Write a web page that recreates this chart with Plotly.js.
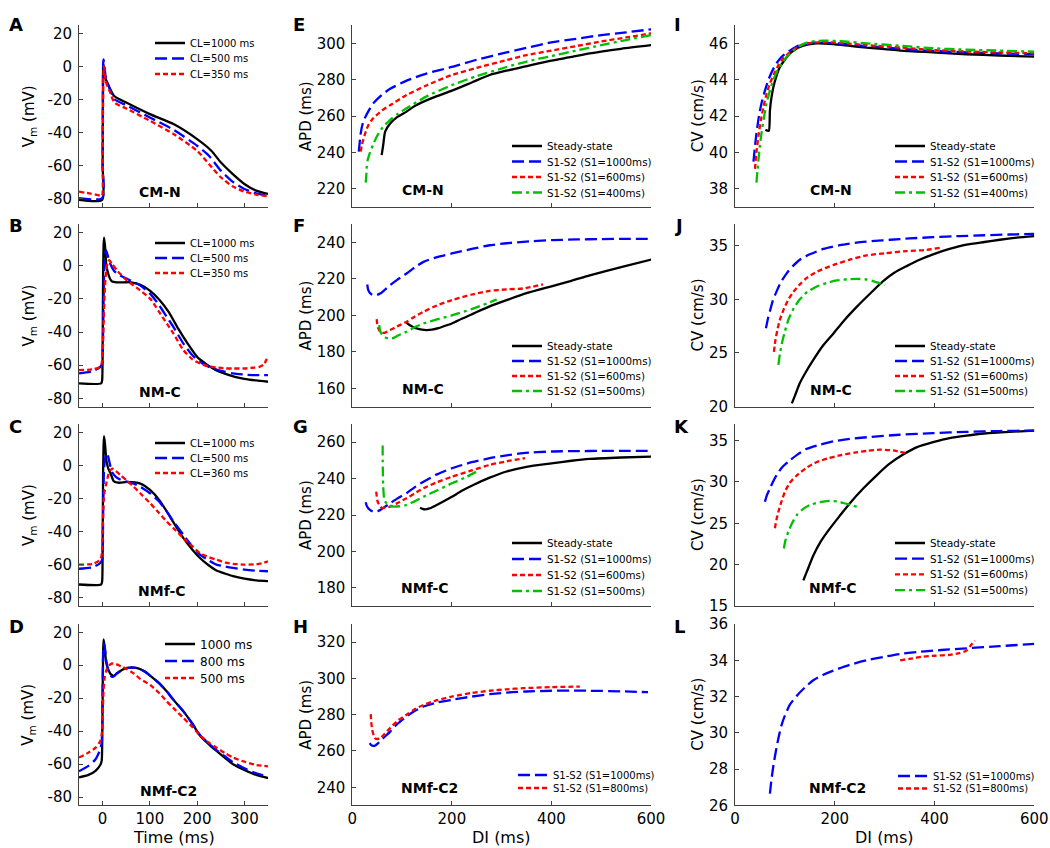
<!DOCTYPE html>
<html>
<head>
<meta charset="utf-8">
<script src="https://cdn.plot.ly/plotly-3.0.1.min.js"></script>
<style>html,body{margin:0;padding:0;background:#fff;}#chart{width:1050px;height:848px;}</style>
</head>
<body>
<div id="chart"></div>
<script>
// ---------------- DATA ----------------
// Panel A (CM-N): action potentials, time (ms) vs Vm (mV)
const A_t_1000 = [-50,-1,0,0.6,1.2,2,3,5,7,10,15,25,50,100,150,200,230,250,275,300,325,350];
const A_v_1000 = [-80.6,-80.6,-60,-20,0,1,-1,-5.7,-8,-9.7,-13,-18,-21.8,-28.8,-34.8,-43.9,-50.9,-57.9,-64.9,-71,-75,-77];
const A_t_500 = [-50,-1,0,0.6,1.2,2,3,5,7,10,15,25,50,100,150,200,225,250,275,300,325,350];
const A_v_500 = [-79.6,-79.6,-60,-20,2,4.3,2,-3,-7,-10,-13.5,-19.8,-23.4,-30.8,-38.2,-47.9,-53.9,-62.9,-69.6,-74,-76.6,-78];
const A_t_350 = [-50,-25,-5,-1,0,0.8,1.6,2.5,4,6,10,15,25,50,100,150,200,225,250,275,300,325,350];
const A_v_350 = [-75.6,-76.8,-78,-78,-60,-25,-5,0,-3,-8,-12,-15,-21.8,-25.4,-32.8,-40.8,-50.9,-58.9,-66.9,-72.4,-75.6,-77.4,-78.4];

// Panel B (NM-C)
const B_t_1000 = [-50,-3,-1,0,1,2,3,5,8,12,16,20,30,45,60,80,100,120,140,160,180,200,220,240,260,280,300,325,350];
const B_v_1000 = [-71,-71,-69,-50,-5,12,17,12,0,-5,-8,-9.5,-10,-10,-10,-11.5,-15,-20.5,-28,-38,-47,-55,-59.5,-63,-65.3,-67,-68.2,-69.2,-70];
const B_t_500 = [-50,-20,-5,-1,1,3,5,7,10,15,24,35,52,80,101,120,136,150,171,190,206,225,241,260,276,300,325,350];
const B_v_500 = [-65,-63.5,-61,-59,-40,-5,6,9.4,7,2,-3,-5.5,-8,-12,-17,-24,-31,-37,-47,-54,-58,-61,-62.6,-64,-65,-65.7,-66,-66];
const B_t_350 = [-50,-20,-5,-2,0,2,5,8,11,14,20,31,52,80,101,120,136,150,171,190,206,225,241,260,276,300,320,332,342,346,350];
const B_v_350 = [-63,-62.5,-61,-59,-52,-35,-12,-2,2,3.4,1,-3,-9,-15,-20,-28,-35,-41,-51,-56.5,-59,-60.8,-61.4,-62,-62,-62,-61.5,-61,-59.5,-57,-55.5];

// Panel C (NMf-C)
const C_t_1000 = [-50,-3,-1,0,1,2,3,5,8,12,17,24,35,52,80,101,120,136,150,171,190,206,225,241,260,276,300,325,350];
const C_v_1000 = [-72,-72,-70,-50,-5,12,17.6,13,3,-2,-5,-9.7,-10.5,-10,-11,-15,-21,-28,-34.5,-44,-51,-56,-60.5,-63.5,-65.5,-67,-68.5,-69.5,-70];
const C_t_500 = [-50,-20,-5,-1,1,3,6,9,12,16,20,28,38,52,66,80,101,120,136,150,171,190,206,225,241,260,276,300,325,350];
const C_v_500 = [-62.5,-61.5,-59,-57,-30,-2,5,7.5,5,0,-4,-7,-8.7,-10,-11,-13,-17,-22,-28,-34,-42,-49,-54,-57.5,-60,-61.2,-62,-63,-63.7,-64];
const C_t_360 = [-50,-20,-5,-2,0,2,4,7,10,14,18,21,28,38,52,66,80,101,120,136,150,171,190,206,225,241,260,276,300,325,340,350];
const C_v_360 = [-60,-59.5,-57,-54,-40,-22,-16,-12,-8,-4,-2.5,-2,-3.5,-6,-9.5,-13,-17,-23,-29,-34,-38,-44,-49,-53,-55.5,-57,-58.8,-59.5,-60,-59.8,-59,-58];

// Panel D (NMf-C2)
const D_t_1000 = [-50,-30,-15,-5,-2,-1,0,1,2,4,7,10,14,17,24,30,40,50,59,70,80,90,101,120,136,150,171,190,206,225,241,260,276,300,325,350];
const D_v_1000 = [-68,-66.5,-64,-60.5,-58,-50,-20,8,15.6,12,3,-1,-4,-5.4,-6.4,-5,-3,-1.8,-1.4,-1.6,-2.4,-4,-6.4,-11,-16,-21,-28,-35.5,-42.6,-48,-52,-56.5,-60,-63.5,-66.5,-68.4];
const D_t_800 = [-50,-30,-15,-5,-2,-1,0,1,2,3,5,8,12,16,20,25,30,40,50,59,70,80,90,101,120,136,150,171,190,206,225,241,260,276,300,325,350];
const D_v_800 = [-64.3,-61,-57,-51,-47,-40,-15,5,11,13,10,2,-3.5,-6,-7,-6.5,-5,-3,-1.8,-1.4,-1.6,-2.4,-4,-6.4,-11,-16,-21,-28,-35.5,-42.3,-47.5,-51.5,-55.5,-58.8,-62.5,-65.5,-67.5];
const D_t_500 = [-50,-30,-15,-5,-2,0,2,4,7,10,14,19,24,30,40,52,66,80,101,120,136,150,171,190,206,225,241,260,276,300,325,350];
const D_v_500 = [-56,-53,-50,-46,-42,-30,-15,-8,-4,-1.5,0,1,1,0.5,-0.8,-2.4,-5,-8.4,-12,-17,-22,-26,-32,-37.5,-42.6,-47,-50,-53.5,-56,-58.5,-60.5,-61.3];

// Panel E (CM-N): APD restitution, DI (ms) vs APD (ms)
const E_di_ss = [59,62,66,76,90,109,125,143,170,200,240,276,310,343,400,440,477,540,601];
const E_apd_ss = [238.6,244,251.5,256,259.5,262.5,265.5,268,271,274,278.5,282.6,285,287,290.5,292.5,294.5,297,299];
const E_di_1000 = [13,15,17,20,25,33,42,59,76,109,150,200,250,310,350,400,450,500,550,601];
const E_apd_1000 = [240.5,246,250.6,255,258.8,263,267,271.6,275,279.5,283.5,287,291,295,297.5,300.5,302.5,304.5,306,307.7];
const E_di_600 = [17,19,22,27,33,42,59,76,109,150,200,250,310,350,400,450,500,550,601];
const E_apd_600 = [240.5,244,247,251.5,255.5,258.8,263,266,271.6,277,282.6,286.5,290.8,293.5,296,298.5,301,303.2,305.5];
const E_di_400 = [27,28,29,31,35,42,49,60,76,90,109,150,200,250,310,350,400,450,500,550,601];
const E_apd_400 = [223.5,227,232,236,239.6,244.5,248.7,253.5,258,261,264.3,271,277,282,287,290,293,296,299,301.8,304.6];

// Panel F (NM-C)
const F_di_ss = [109,115,122,129,140,149,160,173,185,200,220,243,276,310,350,400,440,477,540,601];
const F_apd_ss = [196,194.8,193.7,192.9,192.2,192,192.2,193,194.2,195.6,198.2,201,205,208.4,212.2,216,219,222,226.5,230.7];
const F_di_1000 = [30,32,35,40,45,50,56,65,76,90,109,125,143,170,200,240,276,310,343,400,450,500,550,601];
const F_apd_1000 = [217,214,212.4,211.3,211,211.3,212,214,216.6,219.5,223,226.3,229.4,232,234,236.5,238.5,239.6,240.4,241.3,241.7,241.9,242,242];
const F_di_600 = [49,50,52,55,59,65,76,90,109,125,143,170,200,240,276,310,343,383];
const F_apd_600 = [198,195.5,193,191.5,190.5,190.5,192,194,196.5,199.3,202,205.5,208.4,211.5,213.5,214.3,214.8,217];
const F_di_500 = [54,56,59,65,72,82,92,110,125,143,170,200,240,270,290];
const F_apd_500 = [194.7,191.5,189.8,188.2,187.4,187.6,189,191.2,193.5,195.6,197.8,200,203.5,206.5,208.8];

// Panel G (NMf-C)
const G_di_ss = [136,141,146,155,163,180,200,220,243,276,310,350,400,440,477,540,601];
const G_apd_ss = [224,223.4,223.1,223.6,224.6,227,230,233.3,236.5,240.5,243.9,246.5,248.4,249.8,250.8,251.6,252.1];
const G_di_1000 = [27,29,32,37,42,47,52,60,76,90,109,125,143,170,200,240,276,310,343,400,450,500,550,601];
const G_apd_1000 = [227,225,223.7,222.5,221.8,221.8,222.2,223.5,226.4,229,232,235.2,238.3,242.3,245.7,249,251.2,252.8,254,254.9,255.1,255.2,255.2,255.2];
const G_di_600 = [48,49,50,53,56,59,65,76,90,109,125,143,170,200,240,276,310,347];
const G_apd_600 = [232.8,230.5,228.3,226,224.8,224,224,224.6,226.5,229.2,231.8,234.7,238,241,244.5,247.5,249.5,251.2];
const G_di_500 = [61,61,61.5,62,64,66,69,75,82,95,109,125,143,170,200,230,256];
const G_apd_500 = [258.2,250,242,236,229,227.5,226.4,225.3,224.6,224.8,225.5,227.5,230,233.5,237.4,241,244.8];

// Panel H (NMf-C2)
const H_di_1000 = [35,38,42,47,52,60,76,90,109,125,143,170,200,240,276,310,350,400,450,477,540,594];
const H_apd_1000 = [264.3,263.2,262.8,263.2,264.3,266.5,270.7,274.8,279,282,284.5,286.7,288.2,290,291.3,292.2,292.8,293.2,293.3,293.2,292.9,292.4];
const H_di_800 = [37,38,40,43,46,50,56,65,76,90,109,125,143,170,200,240,276,310,343,400,457];
const H_apd_800 = [280.3,276,271.7,268.5,267,266.6,267,269.5,272.6,276.5,280,283,285.4,288,290,292,293.2,294,294.6,295.2,295.5];

// Panel I (CM-N): CV restitution, DI (ms) vs CV (cm/s)
const I_di_ss = [61,65,68,70,73,77,83,90,100,110,120,130,145,164,197,230,264,300,331,364,397,430,464,530,600];
const I_cv_ss = [41.25,41.2,41.2,42.3,43.0,43.6,44.2,44.7,45.1,45.45,45.65,45.8,45.93,46.0,45.96,45.86,45.76,45.68,45.6,45.55,45.5,45.45,45.4,45.33,45.27];
const I_di_1000 = [37,40,43,48,53,60,67,75,83,95,110,125,137,155,177,220,264,330,397,464,530,600];
const I_cv_1000 = [39.5,40.3,41.05,42.0,42.7,43.4,44.0,44.5,44.9,45.3,45.6,45.85,45.95,46.02,46.04,45.96,45.85,45.7,45.58,45.5,45.45,45.4];
const I_di_600 = [40,43,47,52,57,63,70,78,87,97,110,125,137,155,177,220,264,330,397,464,530,600];
const I_cv_600 = [39.1,40.0,40.9,41.8,42.5,43.2,43.8,44.3,44.8,45.2,45.5,45.8,45.95,46.03,46.07,46.0,45.9,45.77,45.63,45.55,45.5,45.45];
const I_di_400 = [43,45,47,50,53,58,63,70,77,85,94,105,117,130,144,160,177,220,264,330,397,464,530,600];
const I_cv_400 = [38.35,39.0,39.6,40.4,41.05,41.9,42.7,43.4,44.0,44.5,44.9,45.3,45.6,45.85,46.04,46.12,46.15,46.1,46.0,45.87,45.73,45.65,45.6,45.54];

// Panel J (NM-C)
const J_di_ss = [114,120,130,143,157,175,197,220,244,270,297,320,344,370,397,430,464,500,531,565,600];
const J_cv_ss = [20.3,21.0,22.2,23.3,24.35,25.6,26.8,28.1,29.3,30.5,31.7,32.5,33.1,33.7,34.2,34.7,35.1,35.35,35.56,35.75,35.9];
const J_di_1000 = [62,66,70,76,83,92,104,116,130,150,177,210,244,280,311,350,397,450,500,550,600];
const J_cv_1000 = [27.3,28.2,28.9,29.9,30.7,31.6,32.45,33.1,33.7,34.2,34.7,35.05,35.3,35.45,35.56,35.68,35.8,35.9,35.98,36.05,36.1];
const J_di_600 = [78,81,85,90,97,106,117,130,144,165,197,230,264,300,344,380,411];
const J_cv_600 = [25.1,26.2,27.15,28.1,29.0,29.9,30.7,31.4,32.0,32.6,33.2,33.7,34.1,34.3,34.5,34.6,34.8];
const J_di_500 = [87,90,94,100,107,118,130,145,164,185,204,225,250,265,277,290,301];
const J_cv_500 = [23.9,24.9,25.9,27.0,28.1,29.2,30.0,30.7,31.2,31.55,31.76,31.88,31.9,31.85,31.7,31.5,31.35];

// Panel K (NMf-C)
const K_di_ss = [137,145,157,172,190,210,230,257,284,310,337,365,397,430,464,500,550,600];
const K_cv_ss = [18.1,19.3,21.1,22.8,24.35,25.9,27.4,29.2,30.8,32.2,33.3,34.2,34.8,35.3,35.6,35.85,36.05,36.2];
const K_di_1000 = [60,64,70,76,83,95,110,125,144,170,197,230,264,330,397,464,530,600];
const K_cv_1000 = [27.6,28.4,29.2,30.0,30.8,31.8,32.6,33.3,34.0,34.5,34.9,35.2,35.4,35.7,35.9,36.05,36.15,36.2];
const K_di_600 = [80,83,87,93,100,110,124,143,164,187,210,240,265,291,317,341];
const K_cv_600 = [24.4,25.4,26.4,27.6,28.8,29.9,30.8,31.7,32.4,32.85,33.2,33.55,33.75,33.9,33.8,33.5];
const K_di_500 = [98,101,107,115,124,136,150,170,190,205,217,230,244];
const K_cv_500 = [21.95,22.9,24.0,25.1,26.0,26.7,27.2,27.55,27.7,27.65,27.45,27.25,27.0];

// Panel L (NMf-C2)
const L_di_1000 = [70,73,77,82,87,93,100,110,124,140,157,177,197,230,264,300,331,364,397,430,464,530,600];
const L_cv_1000 = [26.65,27.4,28.2,29.0,29.7,30.4,30.95,31.55,32.05,32.5,32.9,33.2,33.43,33.75,34.0,34.2,34.35,34.45,34.53,34.6,34.66,34.78,34.9];
const L_di_800 = [331,350,377,400,431,450,464,472,481];
const L_cv_800 = [34.0,34.08,34.2,34.25,34.3,34.4,34.53,34.8,35.08];

// Tick values
const ticksTime = [0,100,200,300];
const ticksVm = [-80,-60,-40,-20,0,20];
const ticksDI = [0,200,400,600];
const ticksE = [220,240,260,280,300];
const ticksF = [160,180,200,220,240];
const ticksG = [180,200,220,240,260];
const ticksH = [240,260,280,300,320];
const ticksI = [38,40,42,44,46];
const ticksJ = [20,25,30,35];
const ticksK = [15,20,25,30,35];
const ticksL = [26,28,30,32,34,36];

// Legend labels
const labAB = ['CL=1000 ms','CL=500 ms','CL=350 ms'];
const labC = ['CL=1000 ms','CL=500 ms','CL=360 ms'];
const labD = ['1000 ms','800 ms','500 ms'];
const labRest4 = ['Steady-state','S1-S2 (S1=1000ms)','S1-S2 (S1=600ms)','S1-S2 (S1=400ms)'];
const labRest4b = ['Steady-state','S1-S2 (S1=1000ms)','S1-S2 (S1=600ms)','S1-S2 (S1=500ms)'];
const labRest2 = ['S1-S2 (S1=1000ms)','S1-S2 (S1=800ms)'];

// ---------------- STYLE / LAYOUT ----------------
const W = 1050, H = 848;
const FONT = 'DejaVu Sans, Liberation Sans, Arial, sans-serif';
const STY = {
  k: {color:'#000000', width:2.3, dash:'solid'},
  b: {color:'#0000ff', width:2.3, dash:'12px,5px'},
  r: {color:'#ff0000', width:2.3, dash:'5px,3px'},
  g: {color:'#00c000', width:2.3, dash:'10px,4px,3px,4px'}
};
const colX = [[79,268],[352.3,651],[735,1034.3]];
const rowY = [[25.1,207.2],[224.3,406.6],[424,606],[624,805.4]];

const panels = [
  {c:0,r:0,letter:'A',name:'CM-N',xr:[-50,350],xt:ticksTime,yr:[-85,25],yt:ticksVm,nameXY:[160,192],
   leg:{x:190,y:43,dy:15.5,size:10},
   s:[[A_t_1000,A_v_1000,'k',labAB[0]],[A_t_500,A_v_500,'b',labAB[1]],[A_t_350,A_v_350,'r',labAB[2]]]},
  {c:0,r:1,letter:'B',name:'NM-C',xr:[-50,350],xt:ticksTime,yr:[-85,25],yt:ticksVm,nameXY:[160,392],
   leg:{x:190,y:243,dy:15,size:10},
   s:[[B_t_1000,B_v_1000,'k',labAB[0]],[B_t_500,B_v_500,'b',labAB[1]],[B_t_350,B_v_350,'r',labAB[2]]]},
  {c:0,r:2,letter:'C',name:'NMf-C',xr:[-50,350],xt:ticksTime,yr:[-85,25],yt:ticksVm,nameXY:[162,591],
   leg:{x:190,y:443,dy:15,size:10},
   s:[[C_t_1000,C_v_1000,'k',labC[0]],[C_t_500,C_v_500,'b',labC[1]],[C_t_360,C_v_360,'r',labC[2]]]},
  {c:0,r:3,letter:'D',name:'NMf-C2',xr:[-50,350],xt:ticksTime,yr:[-85,25],yt:ticksVm,nameXY:[168,791],
   leg:{x:200,y:644,dy:17,size:12},
   s:[[D_t_1000,D_v_1000,'k',labD[0]],[D_t_800,D_v_800,'b',labD[1]],[D_t_500,D_v_500,'r',labD[2]]]},
  {c:1,r:0,letter:'E',name:'CM-N',xr:[0,600],xt:ticksDI,yr:[210,310],yt:ticksE,nameXY:[423,190],
   leg:{x:547,y:146,dy:15.5,size:10.3},
   s:[[E_di_ss,E_apd_ss,'k',labRest4[0]],[E_di_1000,E_apd_1000,'b',labRest4[1]],[E_di_600,E_apd_600,'r',labRest4[2]],[E_di_400,E_apd_400,'g',labRest4[3]]]},
  {c:1,r:1,letter:'F',name:'NM-C',xr:[0,600],xt:ticksDI,yr:[150,250],yt:ticksF,nameXY:[423,389],
   leg:{x:547,y:346,dy:15,size:10.3},
   s:[[F_di_ss,F_apd_ss,'k',labRest4b[0]],[F_di_1000,F_apd_1000,'b',labRest4b[1]],[F_di_600,F_apd_600,'r',labRest4b[2]],[F_di_500,F_apd_500,'g',labRest4b[3]]]},
  {c:1,r:2,letter:'G',name:'NMf-C',xr:[0,600],xt:ticksDI,yr:[170,270],yt:ticksG,nameXY:[425,588],
   leg:{x:547,y:543,dy:16,size:10.3},
   s:[[G_di_ss,G_apd_ss,'k',labRest4b[0]],[G_di_1000,G_apd_1000,'b',labRest4b[1]],[G_di_600,G_apd_600,'r',labRest4b[2]],[G_di_500,G_apd_500,'g',labRest4b[3]]]},
  {c:1,r:3,letter:'H',name:'NMf-C2',xr:[0,600],xt:ticksDI,yr:[230,330],yt:ticksH,nameXY:[429,788],
   leg:{x:553,y:775,dy:13,size:10},
   s:[[H_di_1000,H_apd_1000,'b',labRest2[0]],[H_di_800,H_apd_800,'r',labRest2[1]]]},
  {c:2,r:0,letter:'I',name:'CM-N',xr:[0,600],xt:ticksDI,yr:[37,47],yt:ticksI,nameXY:[831,190],
   leg:{x:930,y:146,dy:15.5,size:10.3},
   s:[[I_di_ss,I_cv_ss,'k',labRest4[0]],[I_di_1000,I_cv_1000,'b',labRest4[1]],[I_di_600,I_cv_600,'r',labRest4[2]],[I_di_400,I_cv_400,'g',labRest4[3]]]},
  {c:2,r:1,letter:'J',name:'NM-C',xr:[0,600],xt:ticksDI,yr:[20,37],yt:ticksJ,nameXY:[831,390],
   leg:{x:930,y:346,dy:15,size:10.3},
   s:[[J_di_ss,J_cv_ss,'k',labRest4b[0]],[J_di_1000,J_cv_1000,'b',labRest4b[1]],[J_di_600,J_cv_600,'r',labRest4b[2]],[J_di_500,J_cv_500,'g',labRest4b[3]]]},
  {c:2,r:2,letter:'K',name:'NMf-C',xr:[0,600],xt:ticksDI,yr:[15,37],yt:ticksK,nameXY:[833,588],
   leg:{x:930,y:543,dy:15.7,size:10.3},
   s:[[K_di_ss,K_cv_ss,'k',labRest4b[0]],[K_di_1000,K_cv_1000,'b',labRest4b[1]],[K_di_600,K_cv_600,'r',labRest4b[2]],[K_di_500,K_cv_500,'g',labRest4b[3]]]},
  {c:2,r:3,letter:'L',name:'NMf-C2',xr:[0,600],xt:ticksDI,yr:[26,36],yt:ticksL,nameXY:[837,788],
   leg:{x:933,y:776,dy:12.5,size:10},
   s:[[L_di_1000,L_cv_1000,'b',labRest2[0]],[L_di_800,L_cv_800,'r',labRest2[1]]]}
];

const px2x = v => v / W;
const px2y = v => 1 - v / H;

const layout = {
  width: W, height: H,
  margin: {l:0, r:0, t:0, b:0},
  paper_bgcolor: '#ffffff', plot_bgcolor: 'rgba(0,0,0,0)',
  font: {family: FONT, size: 15, color: '#000'},
  hovermode: false,
  showlegend: true,
  annotations: []
};
const traces = [];
let legN = 0;

const axisCommon = {
  ticks: 'inside', ticklen: 4, tickwidth: 1, tickcolor: '#404040',
  showline: true, linecolor: '#404040', linewidth: 1,
  showgrid: false, zeroline: false, fixedrange: true,
  tickfont: {family: FONT, size: 15, color: '#000'}
};

panels.forEach((p, i) => {
  const n = i + 1;
  const xa = 'xaxis' + n, ya = 'yaxis' + n;
  const cx = colX[p.c], ry = rowY[p.r];
  layout[xa] = Object.assign({}, axisCommon, {
    domain: [px2x(cx[0]), px2x(cx[1])], range: p.xr, anchor: 'y' + n,
    tickvals: p.xt, ticktext: p.xt.map(String), showticklabels: p.r === 3,
    ticklabelstandoff: 0
  });
  layout[ya] = Object.assign({}, axisCommon, {
    domain: [px2y(ry[1]), px2y(ry[0])], range: p.yr, anchor: 'x' + n,
    tickvals: p.yt, ticktext: p.yt.map(String), ticklabelstandoff: 3
  });
  p.s.forEach((s, k) => {
    legN++;
    const lid = legN === 1 ? 'legend' : 'legend' + legN;
    layout[lid] = {
      x: px2x(p.leg.x - 40), y: px2y(p.leg.y + k * p.leg.dy),
      xanchor: 'left', yanchor: 'middle', xref: 'paper', yref: 'paper',
      bgcolor: 'rgba(0,0,0,0)', borderwidth: 0, itemwidth: 30, tracegroupgap: 0,
      font: {family: FONT, size: p.leg.size, color: '#000'}
    };
    traces.push({
      type: 'scatter', mode: 'lines', x: s[0], y: s[1], name: s[3],
      xaxis: 'x' + n, yaxis: 'y' + n, legend: lid, showlegend: true,
      line: Object.assign({shape: 'spline', smoothing: 0.6}, STY[s[2]])
    });
  });
  // panel letter
  layout.annotations.push({
    xref: 'paper', yref: 'paper', x: px2x([7, 291, 672][p.c]), y: px2y([25, 225, 426, 626][p.r]),
    xanchor: 'left', yanchor: 'middle', text: '<b>' + p.letter + '</b>', showarrow: false,
    font: {family: FONT, size: 18, color: '#000'}
  });
  // panel name
  layout.annotations.push({
    xref: 'paper', yref: 'paper', x: px2x(p.nameXY[0]), y: px2y(p.nameXY[1]),
    xanchor: 'center', yanchor: 'middle', text: '<b>' + p.name + '</b>', showarrow: false,
    font: {family: FONT, size: 14, color: '#000'}
  });
  // y-axis title
  const ytitle = ['V<sub>m</sub> (mV)', 'APD (ms)', 'CV (cm/s)'][p.c];
  layout.annotations.push({
    xref: 'paper', yref: 'paper', x: px2x([29, 306, 698][p.c]), y: px2y((ry[0] + ry[1]) / 2),
    xanchor: 'center', yanchor: 'middle', textangle: -90, text: ytitle, showarrow: false,
    font: {family: FONT, size: 15, color: '#000'}
  });
  // x-axis title (bottom row)
  if (p.r === 3) {
    layout.annotations.push({
      xref: 'paper', yref: 'paper', x: px2x((cx[0] + cx[1]) / 2), y: px2y(837),
      xanchor: 'center', yanchor: 'middle', text: p.c === 0 ? 'Time (ms)' : 'DI (ms)', showarrow: false,
      font: {family: FONT, size: 16, color: '#000'}
    });
  }
});

Plotly.newPlot('chart', traces, layout, {staticPlot: true, displayModeBar: false});
</script>
</body>
</html>
